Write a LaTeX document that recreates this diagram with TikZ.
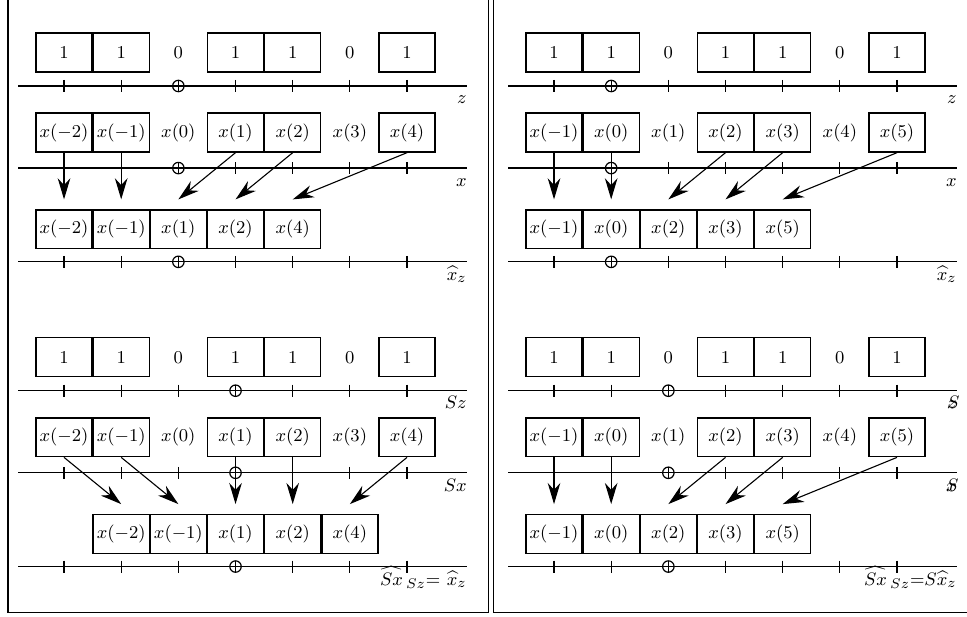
\documentclass[tikz,border=0pt]{standalone}
\usepackage{tikz}
\usetikzlibrary{arrows.meta}
\begin{document}
\begin{tikzpicture}[x=1cm, y=1cm,
	every node/.style = {font=\fontsize{9.4}{11}\selectfont},
	cell/.style = {shape=rectangle, draw, line width=0.7pt,
		minimum width=0.98cm, minimum height=0.68cm, inner sep=0pt},
	free/.style = {shape=rectangle, minimum width=0.98cm,
		minimum height=0.68cm, inner sep=0pt},
	axis/.style = {line width=0.6pt},
	origin/.style = {circle, draw, line width=0.6pt, fill=white,
		minimum size=0.2cm, inner sep=0pt,
		path picture={\draw (path picture bounding box.north) -- (path picture bounding box.south);
			\draw (path picture bounding box.west) -- (path picture bounding box.east);}},
	shift arrow/.style = {line width=0.55pt, -{Stealth[length=0.37cm, width=0.22cm, inset=0.12cm]}},
	axis label/.style = {anchor=base east, inner sep=0pt}]
	\useasboundingbox (0,0) rectangle (16.915,-10.792);
	\clip (0,0) rectangle (16.915,-10.792);
	\draw[line width=0.7pt] (0.14,0.3) rectangle (8.548,-10.71);
	\draw[line width=0.7pt] (8.629,0.3) rectangle (17.3,-10.71);
	% one pass per panel
	\foreach \px/\py/\o/\s/\off/\la/\lb/\lc [count=\p] in {
		0/0/2/-2/0/{$z$}/{$x$}/{$\widehat{x}_z$},
		8.571/0/1/-1/0/{$z$}/{$x$}/{$\widehat{x}_z$},
		0/-5.33/3/-2/1/{$Sz$}/{$Sx$}/{$\widehat{Sx}\,{}_{Sz}{=}\ \widehat{x}_z$},
		8.571/-5.33/2/-1/0/{\rlap{$S$}$z$}/{\rlap{$S$}$x$}/{$\widehat{Sx}\,{}_{Sz}{=}S\widehat{x}_z$}}
	{
	\begin{scope}[shift={(\px,\py)}]
		\foreach \v [count=\i from 0] in {1,1,0,1,1,0,1} {
			\pgfmathtruncatemacro\n{\i+\s}
			\ifnum\v=1 \def\st{cell}\else\def\st{free}\fi
			\node[\st] (z\p-\i) at (1.12+\i,-0.918) {$\v$};
			\node[\st] (x\p-\i) at (1.12+\i,-2.318) {$x(\n)$};
		}
		\foreach \r/\y in {1/-1.504, 2/-2.94, 3/-4.58} {
			\coordinate (w\p-\r) at (0.315,\y);
			\coordinate (e\p-\r) at (8.17,\y);
			\draw[axis] (w\p-\r) -- (e\p-\r);
			\foreach \i in {0,...,6} {
				\ifnum\i=\o\relax
					\node[origin] (o\p-\r) at (1.12+\i,\y) {};
				\else
					\draw[axis] (1.12+\i,\y+0.105) -- (1.12+\i,\y-0.105);
				\fi
			}
		}
		\node[axis label] (lz\p) at ([yshift=-0.31cm]e\p-1) {\la};
		\node[axis label] (lx\p) at ([yshift=-0.33cm]e\p-2) {\lb};
		\node[axis label] (lh\p) at ([yshift=-0.33cm]e\p-3) {\lc};
		% kept entries
		\foreach \src [count=\k from 0] in {0,1,3,4,6} {
			\pgfmathtruncatemacro\n{\src+\s}
			\pgfmathtruncatemacro\j{\k+\off}
			\node[cell] (y\p-\k) at (1.12+\j,-4.01) {$x(\n)$};
			\draw[shift arrow] (x\p-\src.south) -- ([yshift=0.17cm]y\p-\k.north);
		}
	\end{scope}
	}
\end{tikzpicture}
\end{document}
